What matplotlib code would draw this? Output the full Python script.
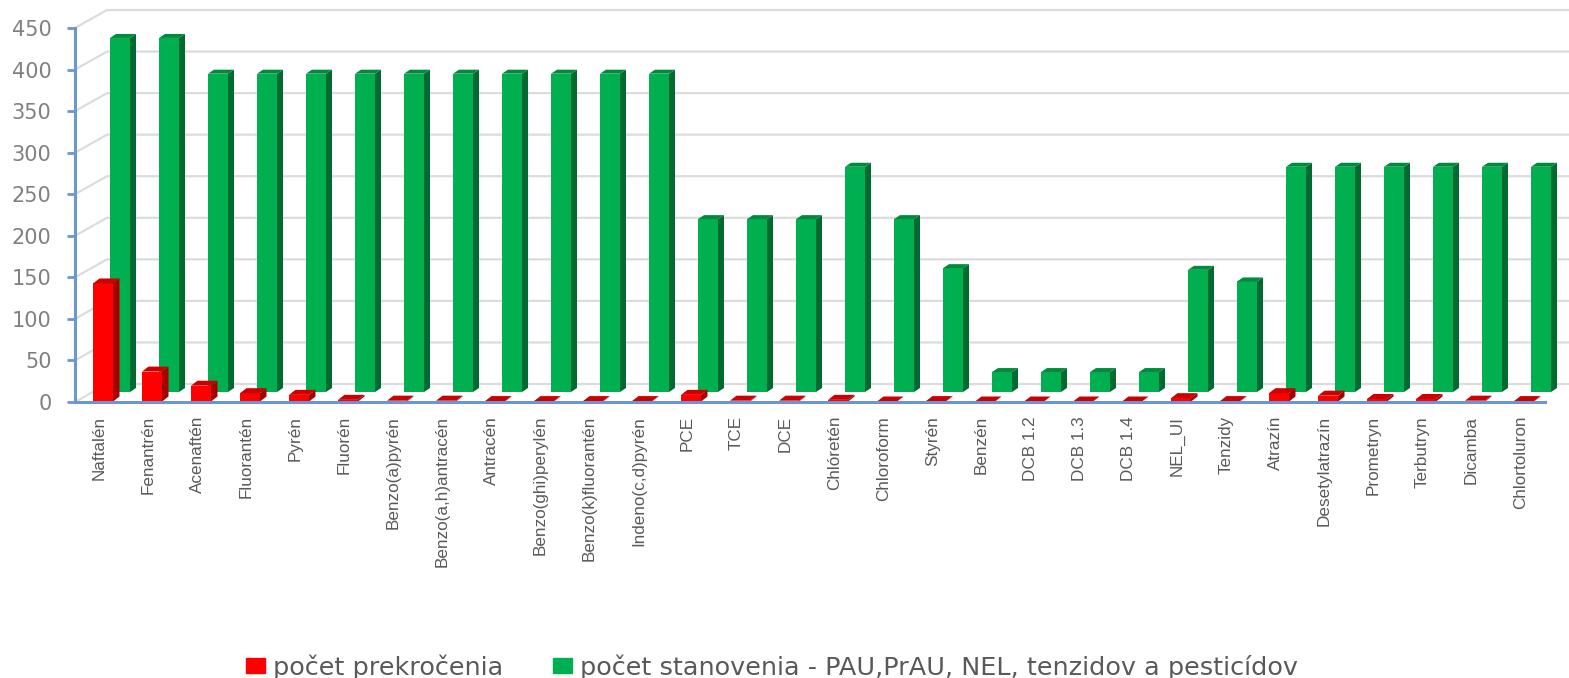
import numpy as np
import matplotlib
matplotlib.use("Agg")
import matplotlib.pyplot as plt
from matplotlib.patches import Polygon, Patch

labels = ["Naftalén", "Fenantrén", "Acenaftén", "Fluorantén", "Pyrén", "Fluorén",
          "Benzo(a)pyrén", "Benzo(a,h)antracén", "Antracén", "Benzo(ghi)perylén",
          "Benzo(k)fluorantén", "Indeno(c,d)pyrén", "PCE", "TCE", "DCE", "Chlóretén",
          "Chloroform", "Styrén", "Benzén", "DCB 1.2", "DCB 1.3", "DCB 1.4", "NEL_UI",
          "Tenzidy", "Atrazín", "Desetylatrazín", "Prometryn", "Terbutryn", "Dicamba",
          "Chlortoluron"]
prekrocenia = [142, 36, 19, 10, 8, 2, 1, 1, 0.5, 0.5, 0.5, 0.5, 8, 1, 1, 2, 0, 0.5, 0, 0, 0, 0,
               4, 0.5, 10, 7, 3, 3, 1, 0.5]
stanovenia = [426, 426, 383, 383, 383, 383, 383, 383, 383, 383, 383, 383, 208, 208, 208, 271,
              208, 149, 24, 24, 24, 24, 147, 133, 271, 271, 271, 271, 271, 271]
yticks = [0, 50, 100, 150, 200, 250, 300, 350, 400, 450]

W, H = 1569, 678
PX_X = 49.0          # px per category
PX_Y = 374 / 450     # px per unit


def box(ax, x, v, off_x, off_y, width, depth_x, depth_y, front, side, top):
    # one fake 3D bar, everything in px offsets converted to data units
    x0 = x + off_x / PX_X
    x1 = x0 + width / PX_X
    y0 = off_y / PX_Y
    y1 = y0 + v
    dx = depth_x / PX_X
    dy = depth_y / PX_Y
    ax.bar(x0, v, width=x1 - x0, bottom=y0, align="edge", color=front, linewidth=0,
           clip_on=False, zorder=3)
    ax.add_patch(Polygon([(x1, y0), (x1 + dx, y0 + dy), (x1 + dx, y1 + dy), (x1, y1)],
                         fc=side, ec="none", clip_on=False, zorder=3))
    ax.add_patch(Polygon([(x0, y1), (x1, y1), (x1 + dx, y1 + dy), (x0 + dx, y1 + dy)],
                         fc=top, ec="none", clip_on=False, zorder=3))


fig = plt.figure(figsize=(W / 100, H / 100), dpi=100)
ax = fig.add_axes([75 / W, (H - 402) / H, 30 * PX_X / W, 374 / H])
ax.set_xlim(0, 30)
ax.set_ylim(0, 450)

# back wall grid
back_x = 32 / PX_X
back_y = 18 / PX_Y
for t in yticks:
    ax.plot([0, back_x, 31], [t, t + back_y, t + back_y], color="#dcdcdc", lw=1.6,
            clip_on=False, zorder=1)

# green row sits behind the red one
for i, v in enumerate(stanovenia):
    box(ax, i, v, 35, 10, 20, 6, 4, "#00b050", "#006b30", "#008a3e")
for i, v in enumerate(prekrocenia):
    box(ax, i, v, 18, 0.5, 20, 6.5, 5, "#ff0000", "#a80000", "#cc0000")

for s in ["top", "right"]:
    ax.spines[s].set_visible(False)
for s in ["left", "bottom"]:
    ax.spines[s].set_color("#6b96cf")
    ax.spines[s].set_linewidth(2.2)
    ax.spines[s].set_zorder(4)

ax.set_yticks(yticks)
ax.tick_params(axis="y", length=6, width=2, color="#6b96cf", labelcolor="#808080",
               labelsize=15, pad=11)

ax.set_xticks(np.arange(30) + 0.5)
ax.set_xticklabels(labels, rotation=90, family="Liberation Sans",
                   fontsize=12.3, color="#595959", va="top", ha="center")
ax.tick_params(axis="x", length=0, pad=10)

handles = [Patch(color="#ff0000"), Patch(color="#00b050")]
fig.legend(handles, ["počet prekročenia", "počet stanovenia - PAU,PrAU, NEL, tenzidov a pesticídov"],
           loc="center", bbox_to_anchor=(772 / W, 1 - 667 / H), ncol=2, frameon=False,
           fontsize=18.35, labelcolor="#595959", handlelength=0.75, handleheight=0.5,
           handletextpad=0.3, columnspacing=1.95)

fig.savefig("out.png", dpi=100)
